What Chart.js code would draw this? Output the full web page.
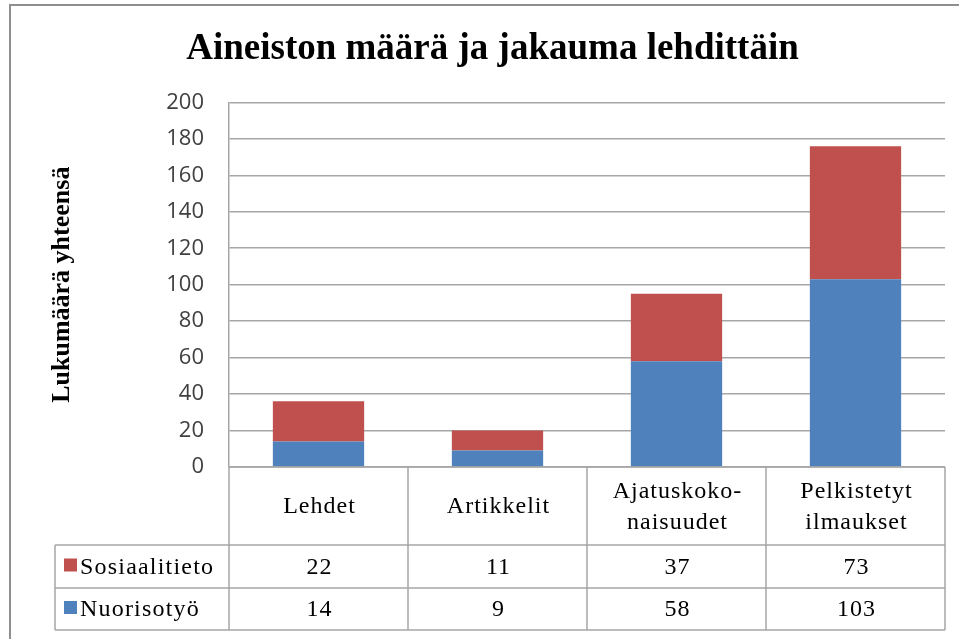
<!DOCTYPE html>
<html>
<head>
<meta charset="utf-8">
<script src="https://cdn.jsdelivr.net/npm/chart.js@4/dist/chart.umd.min.js"></script>
<style>
  html, body { margin: 0; padding: 0; background: #fff; }
  #wrap { width: 959px; height: 639px; position: relative; }
</style>
</head>
<body>
<div id="wrap"><canvas id="cv" width="959" height="639"></canvas></div>
<script>
// data
const categories = ['Lehdet', 'Artikkelit', ['Ajatuskoko-', 'naisuudet'], ['Pelkistetyt', 'ilmaukset']];
const nuorisotyo = [14, 9, 58, 103];
const sosiaalitieto = [22, 11, 37, 73];
const yTicks = [0, 20, 40, 60, 80, 100, 120, 140, 160, 180, 200];

const BLUE = '#4F81BD', RED = '#C0504D', LINE = '#a6a6a6';
const SERIF = '"Liberation Serif", "Times New Roman", serif';

// frame + data table under the plot, positioned from the x scale
const tablePlugin = {
  id: 'table',
  beforeDraw(chart) {
    const ctx = chart.ctx;
    ctx.save();
    ctx.strokeStyle = '#8f8f8f'; ctx.lineWidth = 2;
    ctx.beginPath(); ctx.moveTo(10, 639); ctx.lineTo(10, 5); ctx.lineTo(959, 5); ctx.stroke();
    ctx.restore();
  },
  afterDraw(chart) {
    const ctx = chart.ctx, xs = chart.scales.x, ca = chart.chartArea;
    const half = (xs.getPixelForValue(1) - xs.getPixelForValue(0)) / 2;
    const y0 = ca.bottom, y1 = y0 + 78, y2 = y1 + 43, y3 = y2 + 42;
    const xL = 55;
    ctx.save();
    ctx.strokeStyle = LINE; ctx.lineWidth = 1.5;
    ctx.beginPath();
    ctx.moveTo(ca.left, y0); ctx.lineTo(ca.right, y0);
    [y1, y2, y3].forEach(y => { ctx.moveTo(xL, y); ctx.lineTo(ca.right, y); });
    ctx.moveTo(xL, y1); ctx.lineTo(xL, y3);
    ctx.moveTo(ca.left, y0); ctx.lineTo(ca.left, y3);
    categories.forEach((c, i) => {
      const x = xs.getPixelForValue(i) + half;
      ctx.moveTo(x, y0); ctx.lineTo(x, y3);
    });
    ctx.stroke();

    ctx.fillStyle = '#000';
    ctx.font = '24px ' + SERIF;
    ctx.letterSpacing = '1px';
    ctx.textAlign = 'center'; ctx.textBaseline = 'middle';
    categories.forEach((c, i) => {
      const x = xs.getPixelForValue(i);
      const lines = Array.isArray(c) ? c : [c];
      const mid = (y0 + y1) / 2 + 1;
      lines.forEach((l, k) => ctx.fillText(l, x + 1, mid + (k - (lines.length - 1) / 2) * 31));
      ctx.fillText(String(sosiaalitieto[i]), x + 1, (y1 + y2) / 2 + 1);
      ctx.fillText(String(nuorisotyo[i]), x + 1, (y2 + y3) / 2 + 1);
    });
    // legend keys
    const rows = [[chart.data.datasets[1], (y1 + y2) / 2], [chart.data.datasets[0], (y2 + y3) / 2]];
    ctx.textAlign = 'left';
    ctx.letterSpacing = '1.2px';
    rows.forEach(([ds, y]) => {
      ctx.fillStyle = ds.backgroundColor;
      ctx.fillRect(64, y - 8, 13, 13);
      ctx.fillStyle = '#000';
      ctx.fillText(ds.label, 80, y + 1);
    });
    ctx.restore();
  }
};

new Chart(document.getElementById('cv'), {
  type: 'bar',
  data: {
    labels: categories,
    datasets: [
      { label: 'Nuorisotyö', data: nuorisotyo, backgroundColor: BLUE },
      { label: 'Sosiaalitieto', data: sosiaalitieto, backgroundColor: RED }
    ]
  },
  options: {
    responsive: false,
    animation: false,
    layout: { padding: { left: 40, right: 14, top: 0, bottom: 172 } },
    datasets: { bar: { barPercentage: 0.51, categoryPercentage: 1 } },
    scales: {
      x: { stacked: true, display: false },
      y: {
        stacked: true, min: 0, max: 200,
        afterBuildTicks: s => { s.ticks = yTicks.map(v => ({ value: v })); },
        afterFit: s => { s.width = 189; },
        grid: { color: LINE, lineWidth: 1.5, drawTicks: false },
        border: { color: LINE, width: 1.5 },
        ticks: { padding: 25, color: '#404040', font: { family: '"Open Sans", sans-serif', size: 22 } },
        title: {
          display: true, text: 'Lukumäärä yhteensä', color: '#000',
          font: { family: SERIF, size: 26, weight: 'bold' }, padding: { top: 7, bottom: 0 }
        }
      }
    },
    plugins: {
      legend: { display: false },
      tooltip: { enabled: false },
      title: {
        display: true, text: 'Aineiston määrä ja jakauma lehdittäin', color: '#000',
        font: { family: SERIF, size: 37, weight: 'bold' }, padding: { top: 27, bottom: 31 }
      }
    }
  },
  plugins: [tablePlugin]
});
</script>
</body>
</html>
